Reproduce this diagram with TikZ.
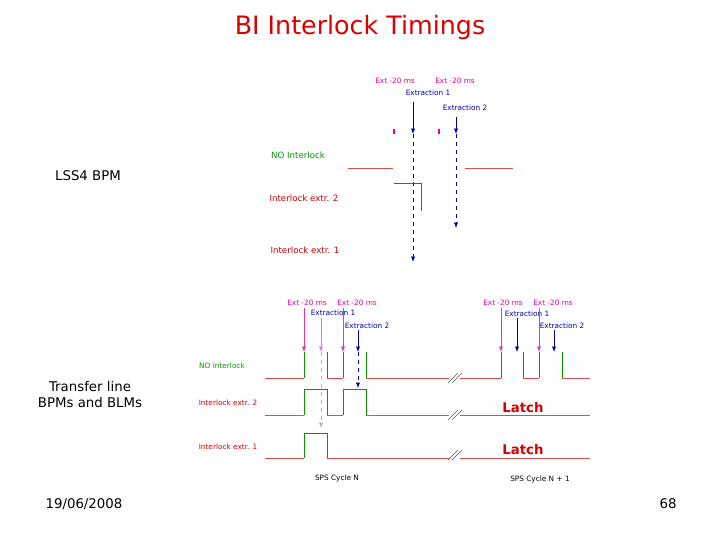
\documentclass[tikz,border=0pt]{standalone}
\usepackage{fontspec}
\setmainfont{DejaVu Sans}
\usetikzlibrary{arrows.meta}
\begin{document}
\begin{tikzpicture}[x=0.75pt,y=-0.75pt,
  lvl/.style={red!80!black!70, thin},
  edge/.style={green!60!black, thin},
  ext/.style={blue!70!black, thin, -{Latex[length=4pt,width=3pt]}},
  pre/.style={magenta!80, thin, -{Latex[length=4pt,width=3pt]}},
  dsh/.style={blue!70!black, thin, dashed, -{Latex[length=4pt,width=3pt]}},
  tiny/.style={font=\fontsize{5.5}{6}\selectfont, inner sep=1pt},
  slide/.style={font=\fontsize{10}{12}\selectfont, align=center}]
\useasboundingbox (0,0) rectangle (720,540);

\node[red!85!black, font=\fontsize{19}{22}\selectfont] (title) at (360,28) {BI Interlock Timings};
\node[slide] (lss) at (88,176) {LSS4 BPM};
\node[slide] (tl) at (90,395) {Transfer line\\BPMs and BLMs};
\node[slide] (date) at (84,504) {19/06/2008};
\node[slide] (page) at (668,504) {68};

% upper diagram
\node[tiny, magenta] (u1) at (395,81) {Ext -20 ms};
\node[tiny, magenta] (u2) at (455,81) {Ext -20 ms};
\node[tiny, blue!70!black] (ue1) at (428,93) {Extraction 1};
\node[tiny, blue!70!black] (ue2) at (465,108) {Extraction 2};
\node[tiny, green!60!black, font=\fontsize{6.5}{7}\selectfont] (uno) at (298,155) {NO Interlock};
\node[tiny, red!80!black, font=\fontsize{6.5}{7}\selectfont] (ui2) at (304,198) {Interlock extr. 2};
\node[tiny, red!80!black, font=\fontsize{6.5}{7}\selectfont] (ui1) at (305,250) {Interlock extr. 1};
\draw[ext] (413,102) -- (413,134);
\draw[dsh] (413,134) -- (413,262);
\draw[ext] (456,117) -- (456,134);
\draw[dsh] (456,134) -- (456,228);
\draw[magenta, thick] (394,129) -- (394,134);
\draw[magenta, thick] (439,129) -- (439,134);
\draw[lvl] (348,168) -- (393,168);
\draw[lvl] (465,168) -- (513,168);
\draw[edge] (394,183) -- (421,183) -- (421,211);

% lower diagram
\node[tiny, green!60!black] (lno) at (222,366) {NO Interlock};
\node[tiny, red!80!black] (li2) at (228,403) {Interlock extr. 2};
\node[tiny, red!80!black] (li1) at (228,447) {Interlock extr. 1};
\node[tiny] (cn) at (337,478) {SPS Cycle N};
\node[tiny] (cn1) at (540,479) {SPS Cycle N + 1};
\node[red!85!black, font=\bfseries\fontsize{10}{12}\selectfont] (la2) at (523,408) {Latch};
\node[red!85!black, font=\bfseries\fontsize{10}{12}\selectfont] (la1) at (523,450) {Latch};

% NO interlock
\draw[lvl] (265,378) -- (304,378) (327,378) -- (343,378) (366,378) -- (449,378)
  (460,378) -- (501,378) (523,378) -- (539,378) (562,378) -- (590,378);
\foreach \x in {304,327,343,366,501,523,539,562}
  \draw[edge] (\x,352) -- (\x,378);
% extr. 2
\draw[lvl] (265,415) -- (304,415) (327,415) -- (343,415) (366,415) -- (449,415) (460,415) -- (590,415);
\draw[edge] (304,415) -- (304,389) -- (327,389) -- (327,415);
\draw[edge] (343,415) -- (343,389) -- (366,389) -- (366,415);
% extr. 1
\draw[lvl] (265,458) -- (304,458) (327,458) -- (449,458) (460,458) -- (590,458);
\draw[edge] (304,458) -- (304,433) -- (327,433) -- (327,458);
% breaks
\foreach \y in {378,415,455}
  \foreach \d in {0,4}
    \draw[gray!70!black, thin] (448+\d,\y+5) -- (458+\d,\y-5);

% cycle N
\node[tiny, magenta] (a1) at (307,303) {Ext -20 ms};
\node[tiny, magenta] (a2) at (357,303) {Ext -20 ms};
\node[tiny, blue!70!black] (b1) at (333,313) {Extraction 1};
\node[tiny, blue!70!black] (b2) at (367,326) {Extraction 2};
\draw[pre] (304,308) -- (304,352);
\draw[pre] (343,308) -- (343,352);
\draw[ext, blue!50!magenta!50] (321,318) -- (321,352);
\draw[dsh, gray!60] (321,352) -- (321,428);
\draw[ext] (358,330) -- (358,352);
\draw[dsh] (358,352) -- (358,388);
% cycle N+1
\node[tiny, magenta] (c1) at (503,303) {Ext -20 ms};
\node[tiny, magenta] (c2) at (553,303) {Ext -20 ms};
\node[tiny, blue!70!black] (d1) at (527,314) {Extraction 1};
\node[tiny, blue!70!black] (d2) at (562,326) {Extraction 2};
\draw[pre] (501,308) -- (501,352);
\draw[pre] (539,308) -- (539,352);
\draw[ext] (517,318) -- (517,352);
\draw[ext] (554,330) -- (554,352);
\end{tikzpicture}
\end{document}
